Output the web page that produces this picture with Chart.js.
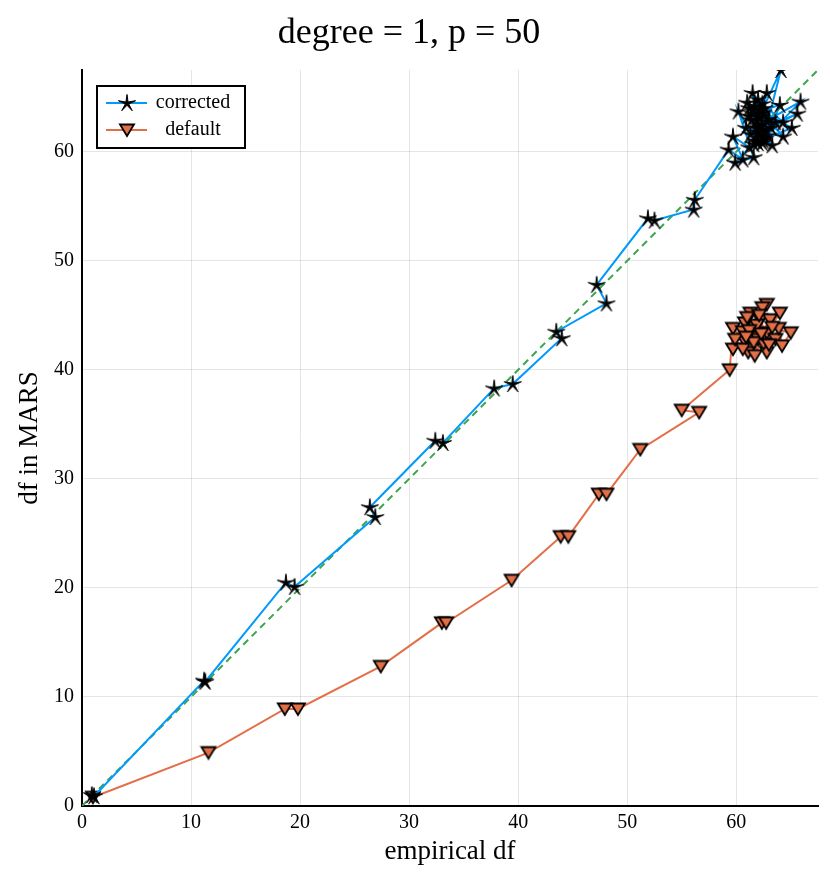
<!DOCTYPE html>
<html>
<head>
<meta charset="utf-8">
<script src="https://cdn.jsdelivr.net/npm/chart.js@4.4.1/dist/chart.umd.min.js"></script>
<style>
  body { margin: 0; background: #fff; }
</style>
</head>
<body>
<canvas id="marsChart" width="830" height="885"></canvas>
<script>
// corrected df (blue, star markers)
const correctedX = [0.9, 1.1, 11.2, 11.3, 18.7, 19.5, 26.9, 26.4, 32.4, 33.1, 37.8, 39.5, 44.0, 43.5, 48.1, 47.2, 51.9, 52.5, 56.1, 56.2,
  59.3, 60.6, 59.7, 61.2, 59.9, 61.6, 60.2, 61.8, 62.3, 61.5, 62.0, 63.3, 61.4, 62.8, 62.2, 64.3, 61.7, 62.6, 65.9, 62.0,
  61.0, 63.6, 62.4, 64.1, 62.1, 61.3, 65.6, 62.7, 60.9, 64.3, 62.0, 61.6, 65.1, 62.5, 61.1, 64.0, 62.9, 61.9, 63.0, 62.4,
  62.2, 61.5, 62.8, 61.8, 62.5, 61.2, 63.2, 62.0, 61.6, 62.6];
const correctedY = [1.0, 0.9, 11.5, 11.4, 20.5, 20.1, 26.5, 27.4, 33.5, 33.3, 38.3, 38.7, 42.9, 43.5, 46.1, 47.8, 53.9, 53.7, 54.7, 55.6,
  60.2, 59.3, 61.4, 60.4, 59.0, 59.5, 63.7, 61.0, 62.5, 65.4, 61.8, 60.6, 62.9, 65.4, 63.8, 61.4, 64.2, 61.2, 64.6, 62.4,
  64.5, 62.7, 60.8, 67.5, 63.2, 61.6, 63.5, 62.0, 62.2, 62.7, 64.8, 60.7, 62.2, 63.6, 63.3, 64.3, 61.5, 62.9, 63.0, 64.4,
  61.5, 63.5, 62.8, 62.2, 61.0, 64.0, 62.2, 60.8, 63.9, 64.0];

// default df (orange, triangle markers)
const defaultX = [1.0, 11.6, 18.6, 19.8, 27.4, 33.0, 33.4, 39.4, 43.9, 44.6, 47.4, 48.1, 51.2, 56.6, 55.0, 59.4,
  59.7, 60.8, 59.7, 61.3, 60.6, 61.1, 62.2, 59.9, 61.7, 62.8, 60.6, 61.5, 62.4, 61.7, 63.1, 62.0, 60.8, 64.0,
  62.8, 63.6, 62.8, 63.9, 64.2, 65.0, 61.9, 62.5, 61.2, 63.3, 61.6, 62.3, 60.9, 63.0, 62.1, 61.0];
const defaultY = [0.8, 4.9, 8.9, 8.9, 12.8, 16.8, 16.8, 20.7, 24.7, 24.7, 28.6, 28.6, 32.7, 36.1, 36.3, 40.0,
  43.8, 42.6, 41.9, 45.2, 43.5, 41.6, 44.6, 42.8, 43.9, 46.0, 41.9, 43.0, 45.7, 41.3, 44.6, 42.8, 44.3, 45.2,
  43.4, 42.8, 41.6, 43.8, 42.2, 43.4, 44.1, 42.4, 43.6, 43.9, 42.5, 43.3, 43.0, 42.3, 45.0, 44.8];

// y = x reference
const identityX = [0, 68];
const identityY = [0, 68];

const axisTicks = [0, 10, 20, 30, 40, 50, 60];
const seriesNames = ["corrected", "default"];

const toPoints = (xs, ys) => xs.map((x, i) => ({ x: x, y: ys[i] }));

// marker images
function starMarker() {
  const c = document.createElement("canvas");
  c.width = 20; c.height = 20;
  const g = c.getContext("2d");
  g.translate(10, 10.5);
  g.beginPath();
  for (let i = 0; i < 10; i++) {
    const r = i % 2 === 0 ? 9 : 1.8;
    const a = -Math.PI / 2 + i * Math.PI / 5;
    const px = r * Math.cos(a), py = r * Math.sin(a);
    if (i === 0) g.moveTo(px, py); else g.lineTo(px, py);
  }
  g.closePath();
  g.fillStyle = "#000";
  g.fill();
  g.lineWidth = 1;
  g.strokeStyle = "#000";
  g.stroke();
  return c;
}

function triangleMarker() {
  const c = document.createElement("canvas");
  c.width = 18; c.height = 16;
  const g = c.getContext("2d");
  g.beginPath();
  g.moveTo(2, 2.5);
  g.lineTo(16, 2.5);
  g.lineTo(9, 14);
  g.closePath();
  g.fillStyle = "#E26F46";
  g.fill();
  g.lineWidth = 1.8;
  g.lineJoin = "miter";
  g.strokeStyle = "#000";
  g.stroke();
  return c;
}

const star = starMarker();
const tri = triangleMarker();

const serif = "'Liberation Serif', 'DejaVu Serif', serif";

const legendBox = {
  id: "legendBox",
  afterDatasetsDraw(chart) {
    const ctx = chart.ctx;
    const x0 = 97, y0 = 86, w = 148, h = 62;
    ctx.save();
    ctx.fillStyle = "#fff";
    ctx.fillRect(x0, y0, w, h);
    ctx.lineWidth = 2;
    ctx.strokeStyle = "#000";
    ctx.strokeRect(x0, y0, w, h);
    const rows = [
      { y: 103, color: "#009AFA", img: star, label: seriesNames[0] },
      { y: 130, color: "#E36F47", img: tri, label: seriesNames[1] }
    ];
    ctx.font = "20px " + serif;
    ctx.textAlign = "center";
    ctx.textBaseline = "middle";
    rows.forEach(r => {
      ctx.beginPath();
      ctx.moveTo(106, r.y);
      ctx.lineTo(147, r.y);
      ctx.lineWidth = 2;
      ctx.strokeStyle = r.color;
      ctx.stroke();
      ctx.drawImage(r.img, 127 - r.img.width / 2, r.y - r.img.height / 2);
      ctx.fillStyle = "#000";
      ctx.fillText(r.label, 193, r.y);
    });
    ctx.restore();
  }
};

new Chart(document.getElementById("marsChart"), {
  type: "line",
  data: {
    datasets: [
      {
        label: "y = x",
        data: toPoints(identityX, identityY),
        borderColor: "#3EA44E",
        borderWidth: 2,
        borderDash: [7, 5],
        pointRadius: 0,
        order: 3
      },
      {
        label: seriesNames[1],
        data: toPoints(defaultX, defaultY),
        borderColor: "#E36F47",
        borderWidth: 2,
        pointStyle: tri,
        pointRadius: 8,
        order: 2
      },
      {
        label: seriesNames[0],
        data: toPoints(correctedX, correctedY),
        borderColor: "#009AFA",
        borderWidth: 2,
        pointStyle: star,
        pointRadius: 8,
        order: 1
      }
    ]
  },
  options: {
    responsive: false,
    animation: false,
    layout: { padding: { left: 0, right: 12, top: 0, bottom: 0 } },
    plugins: {
      legend: { display: false },
      tooltip: { enabled: false },
      title: {
        display: true,
        text: "degree = 1, p = 50",
        color: "#000",
        font: { family: serif, size: 36, weight: "normal" },
        padding: { top: 12, bottom: 14.8 }
      }
    },
    scales: {
      x: {
        type: "linear",
        min: 0,
        max: 67.5,
        afterBuildTicks: s => { s.ticks = axisTicks.map(v => ({ value: v })); },
        afterFit: s => { s.height = 79; },
        grid: { color: "rgba(0,0,0,0.1)", lineWidth: 1, drawTicks: false },
        border: { display: true, color: "#000", width: 2 },
        ticks: { color: "#000", padding: 5, font: { family: serif, size: 20 }, maxRotation: 0 },
        title: {
          display: true,
          text: "empirical df",
          color: "#000",
          font: { family: serif, size: 27 },
          padding: { top: 0, bottom: 17 }
        }
      },
      y: {
        type: "linear",
        min: 0,
        max: 67.5,
        afterBuildTicks: s => { s.ticks = axisTicks.map(v => ({ value: v })); },
        afterFit: s => { s.width = 82; },
        grid: { color: "rgba(0,0,0,0.1)", lineWidth: 1, drawTicks: false },
        border: { display: true, color: "#000", width: 2 },
        ticks: { color: "#000", padding: 8, font: { family: serif, size: 20 } },
        title: {
          display: true,
          text: "df in MARS",
          color: "#000",
          font: { family: serif, size: 27 },
          padding: { top: 14, bottom: 0 }
        }
      }
    }
  },
  plugins: [legendBox]
});
</script>
</body>
</html>
